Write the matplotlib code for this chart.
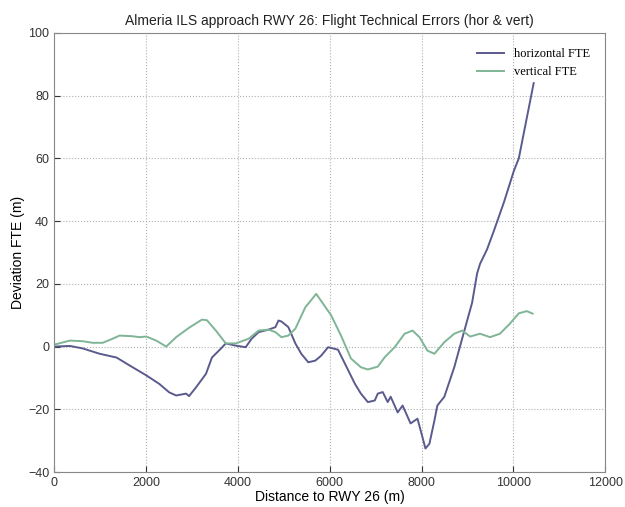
import matplotlib
matplotlib.use("Agg")
import matplotlib.pyplot as plt

# distance to runway (m) and deviations (m)
hor_dist = [0, 346, 627, 995, 1362, 1643, 2011, 2292, 2508, 2659, 2875, 2940, 3092,
            3308, 3438, 3589, 3740, 3956, 4173, 4302, 4454, 4670, 4821, 4886, 4951,
            5102, 5254, 5383, 5535, 5686, 5816, 5967, 6183, 6335, 6551, 6681, 6832,
            6983, 7048, 7156, 7264, 7329, 7481, 7589, 7762, 7913, 8021, 8086, 8172,
            8281, 8345, 8497, 8713, 8843, 8994, 9102, 9210, 9275, 9427, 9578, 9794,
            10010, 10118, 10442]
hor_fte = [0, 0.2, -0.6, -2.3, -3.5, -6, -9.2, -11.9, -14.6, -15.6, -15, -15.8, -13,
           -8.7, -3.5, -1.3, 1, 0.3, -0.2, 2.5, 4.6, 5.4, 6.2, 8.3, 8, 6.2, 1, -2.3,
           -5, -4.5, -2.9, -0.2, -1, -5.5, -11.9, -15, -17.7, -17.2, -15, -14.5, -17.7,
           -16, -21, -18.8, -24.5, -23, -28.9, -32.5, -31, -23.6, -18.8, -16, -6.6,
           0.3, 8.3, 14, 23.3, 26.4, 31, 37, 46, 56, 60, 84]

vert_dist = [0, 346, 627, 843, 1059, 1276, 1427, 1708, 1859, 2011, 2227, 2443, 2659,
             2940, 3221, 3329, 3524, 3740, 3956, 4237, 4454, 4670, 4821, 4951, 5102,
             5254, 5470, 5708, 6032, 6248, 6464, 6681, 6832, 7048, 7199, 7416, 7632,
             7805, 7956, 8129, 8281, 8497, 8713, 8886, 9059, 9275, 9491, 9708, 9924,
             10118, 10291, 10421]
vert_fte = [0.6, 1.9, 1.7, 1.2, 1.2, 2.5, 3.5, 3.3, 3, 3.2, 1.9, 0, 3, 6, 8.6, 8.4,
            5.1, 1, 1, 2.5, 5.1, 5.4, 4.6, 3, 3.5, 5.7, 12.5, 16.8, 10, 3.5, -3.8,
            -6.6, -7.3, -6.4, -3.4, -0.2, 4.1, 5.1, 3, -1.3, -2.3, 1.4, 4.1, 5.1, 3.2,
            4.1, 3, 4.1, 7.3, 10.6, 11.3, 10.5]

blue = "#5a5a8e"
green = "#7fb596"

fig = plt.figure(figsize=(6.25, 5.07), dpi=100)
ax = fig.add_axes([0.0864, 0.069, 0.882, 0.866])

ax.plot(hor_dist, hor_fte, color=blue, lw=1.4, label="horizontal FTE")
ax.plot(vert_dist, vert_fte, color=green, lw=1.4, label="vertical FTE")

ax.set_xlim(0, 12000)
ax.set_ylim(-40, 100)
ax.set_xticks(range(0, 12001, 2000))
ax.set_yticks(range(-40, 101, 20))
ax.grid(True, linestyle=":", color="#b0b0b0", lw=0.8)
ax.tick_params(direction="in", labelsize=9, colors="#333333", length=4)
for s in ax.spines.values():
    s.set_color("#888888")

ax.set_title("Almeria ILS approach RWY 26: Flight Technical Errors (hor & vert)",
             fontsize=10, family="Liberation Sans", color="#222222")
ax.set_xlabel("Distance to RWY 26 (m)", fontsize=10, family="Liberation Sans", labelpad=1)
ax.set_ylabel("Deviation FTE (m)", fontsize=10, family="Liberation Sans", labelpad=2)
for lbl in ax.get_xticklabels() + ax.get_yticklabels():
    lbl.set_family("Liberation Sans")

leg = ax.legend(loc="upper right", frameon=False, prop={"family": "Liberation Serif", "size": 9},
                handlelength=2.2, borderaxespad=0.8)

fig.savefig("out.png", dpi=100)
